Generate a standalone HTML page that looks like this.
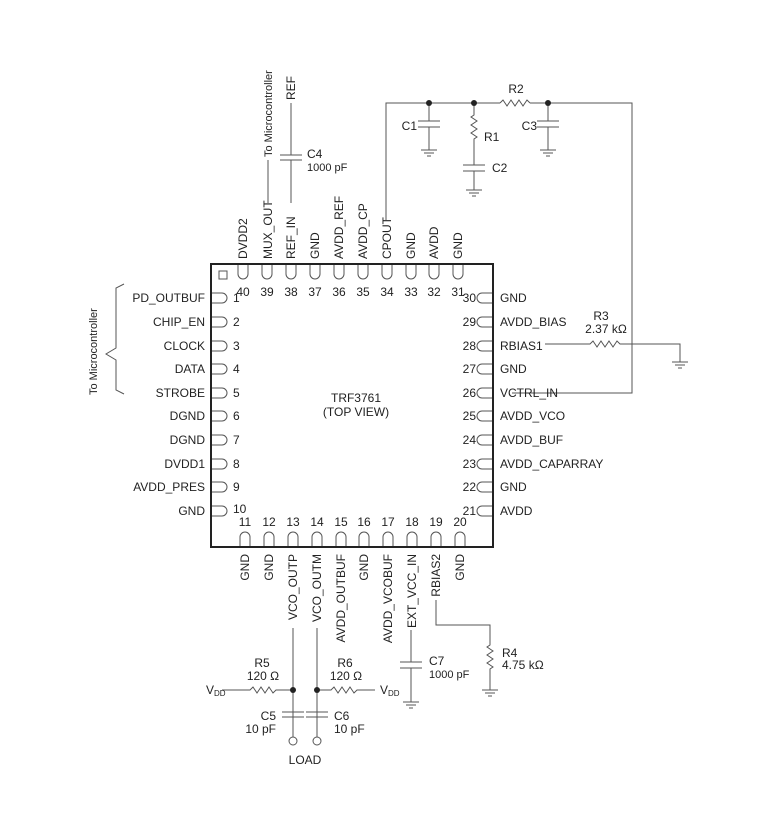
<!DOCTYPE html>
<html><head><style>body{margin:0;background:#fff}svg{display:block}text{font-family:"Liberation Sans",sans-serif;fill:#222}</style></head><body>
<svg width="765" height="833" viewBox="0 0 765 833" xmlns="http://www.w3.org/2000/svg">
<g fill="none" stroke="#555" stroke-width="1">
<rect x="211" y="264" width="282" height="283" stroke="#222" stroke-width="2"/>
<rect x="219" y="271" width="8" height="8"/>
<path d="M238,265v9a5,5 0 0 0 10,0v-9M262,265v9a5,5 0 0 0 10,0v-9M286,265v9a5,5 0 0 0 10,0v-9M310,265v9a5,5 0 0 0 10,0v-9M334,265v9a5,5 0 0 0 10,0v-9M358,265v9a5,5 0 0 0 10,0v-9M382,265v9a5,5 0 0 0 10,0v-9M406,265v9a5,5 0 0 0 10,0v-9M429,265v9a5,5 0 0 0 10,0v-9M453,265v9a5,5 0 0 0 10,0v-9"/>
<path d="M240,546v-9a5,5 0 0 1 10,0v9M264,546v-9a5,5 0 0 1 10,0v9M288,546v-9a5,5 0 0 1 10,0v9M312,546v-9a5,5 0 0 1 10,0v9M336,546v-9a5,5 0 0 1 10,0v9M359,546v-9a5,5 0 0 1 10,0v9M383,546v-9a5,5 0 0 1 10,0v9M407,546v-9a5,5 0 0 1 10,0v9M431,546v-9a5,5 0 0 1 10,0v9M455,546v-9a5,5 0 0 1 10,0v9"/>
<path d="M212,293h10a5,5 0 0 1 0,10h-10M212,317h10a5,5 0 0 1 0,10h-10M212,341h10a5,5 0 0 1 0,10h-10M212,364h10a5,5 0 0 1 0,10h-10M212,388h10a5,5 0 0 1 0,10h-10M212,411h10a5,5 0 0 1 0,10h-10M212,435h10a5,5 0 0 1 0,10h-10M212,459h10a5,5 0 0 1 0,10h-10M212,482h10a5,5 0 0 1 0,10h-10M212,506h10a5,5 0 0 1 0,10h-10"/>
<path d="M492,293h-10a5,5 0 0 0 0,10h10M492,317h-10a5,5 0 0 0 0,10h10M492,341h-10a5,5 0 0 0 0,10h10M492,364h-10a5,5 0 0 0 0,10h10M492,388h-10a5,5 0 0 0 0,10h10M492,411h-10a5,5 0 0 0 0,10h10M492,435h-10a5,5 0 0 0 0,10h10M492,459h-10a5,5 0 0 0 0,10h10M492,482h-10a5,5 0 0 0 0,10h10M492,506h-10a5,5 0 0 0 0,10h10"/>
<path d="M124,284l-8,4v60l-10,6l10,6v30l8,4"/>
<path d="M386,220V103H500M530,103H632V393H512"/>
<path d="M500,103l3,-3l4,6l4,-6l4,6l4,-6l4,6l4,-6l3,3"/>
<path d="M429,103V121M418,121h22M418,127h22M429,127V150M421,150h16M424,153h10M427,156h4"/>
<path d="M474,103V115l-3,2l6,4l-6,4l6,4l-6,4l6,4l-3,2V165M463,165h22M463,171h22M474,171V190M466,190h16M469,193h10M472,196h4"/>
<path d="M548,103V121M537,121h22M537,127h22M548,127V150M540,150h16M543,153h10M546,156h4"/>
<path d="M268,203V160M291,203V160M280,160h22M280,155h22M291,155V103"/>
<path d="M545,344H590l3,-3l4,6l4,-6l4,6l4,-6l4,6l4,-6l3,3H680V362M672,362h16M675,365h10M678,368h4"/>
<path d="M293,628V737M317,628V737M282,712h22M282,717h22M306,712h22M306,717h22"/>
<path d="M222,690H250l3,-3l4,6l4,-6l4,6l4,-6l4,6l3,-3H293M317,690H331l3,-3l4,6l4,-6l4,6l4,-6l4,6l3,-3H375"/>
<circle cx="293" cy="741" r="4"/><circle cx="317" cy="741" r="4"/>
<path d="M411,630V662M400,662h22M400,668h22M411,668V702M403,702h16M406,705h10M409,708h4"/>
<path d="M436,600V625H490V645l-3,2l6,4l-6,4l6,4l-6,4l6,4l-3,2V690M482,690h16M485,693h10M488,696h4"/>
</g>
<g fill="#222"><circle cx="429" cy="103" r="3"/><circle cx="474" cy="103" r="3"/><circle cx="548" cy="103" r="3"/><circle cx="293" cy="690" r="3"/><circle cx="317" cy="690" r="3"/></g>
<g font-size="12">
<g text-anchor="start">
<text transform="translate(247,259) rotate(-90)">DVDD2</text>
<text transform="translate(272,259) rotate(-90)">MUX_OUT</text>
<text transform="translate(295,259) rotate(-90)">REF_IN</text>
<text transform="translate(319,259) rotate(-90)">GND</text>
<text transform="translate(343,259) rotate(-90)">AVDD_REF</text>
<text transform="translate(367,259) rotate(-90)">AVDD_CP</text>
<text transform="translate(391,259) rotate(-90)">CPOUT</text>
<text transform="translate(415,259) rotate(-90)">GND</text>
<text transform="translate(438,259) rotate(-90)">AVDD</text>
<text transform="translate(462,259) rotate(-90)">GND</text>
<text transform="translate(272,157) rotate(-90)" font-size="11">To Microcontroller</text>
<text transform="translate(295,100) rotate(-90)">REF</text>
<text transform="translate(97,395) rotate(-90)" font-size="11">To Microcontroller</text>
</g>
<g text-anchor="end">
<text transform="translate(249,554) rotate(-90)">GND</text>
<text transform="translate(273,554) rotate(-90)">GND</text>
<text transform="translate(297,554) rotate(-90)">VCO_OUTP</text>
<text transform="translate(321,554) rotate(-90)">VCO_OUTM</text>
<text transform="translate(345,554) rotate(-90)">AVDD_OUTBUF</text>
<text transform="translate(368,554) rotate(-90)">GND</text>
<text transform="translate(392,554) rotate(-90)">AVDD_VCOBUF</text>
<text transform="translate(416,554) rotate(-90)">EXT_VCC_IN</text>
<text transform="translate(440,554) rotate(-90)">RBIAS2</text>
<text transform="translate(464,554) rotate(-90)">GND</text>
</g>
<g text-anchor="middle">
<text x="243" y="296">40</text><text x="267" y="296">39</text><text x="291" y="296">38</text><text x="315" y="296">37</text><text x="339" y="296">36</text><text x="363" y="296">35</text><text x="387" y="296">34</text><text x="411" y="296">33</text><text x="434" y="296">32</text><text x="458" y="296">31</text>
<text x="245" y="526">11</text><text x="269" y="526">12</text><text x="293" y="526">13</text><text x="317" y="526">14</text><text x="341" y="526">15</text><text x="364" y="526">16</text><text x="388" y="526">17</text><text x="412" y="526">18</text><text x="436" y="526">19</text><text x="460" y="526">20</text>
<text x="356" y="402">TRF3761</text><text x="356" y="416">(TOP VIEW)</text>
<text x="516" y="93">R2</text>
<text x="601" y="320">R3</text><text x="606" y="333">2.37 kΩ</text>
<text x="262" y="667">R5</text><text x="263" y="680">120 Ω</text>
<text x="345" y="667">R6</text><text x="346" y="680">120 Ω</text>
<text x="305" y="764">LOAD</text>
</g>
<g text-anchor="end">
<text x="205" y="302">PD_OUTBUF</text><text x="205" y="326">CHIP_EN</text><text x="205" y="350">CLOCK</text><text x="205" y="373">DATA</text><text x="205" y="397">STROBE</text><text x="205" y="420">DGND</text><text x="205" y="444">DGND</text><text x="205" y="468">DVDD1</text><text x="205" y="491">AVDD_PRES</text><text x="205" y="515">GND</text>
<text x="476" y="302">30</text><text x="476" y="326">29</text><text x="476" y="350">28</text><text x="476" y="373">27</text><text x="476" y="397">26</text><text x="476" y="420">25</text><text x="476" y="444">24</text><text x="476" y="468">23</text><text x="476" y="491">22</text><text x="476" y="515">21</text>
<text x="417" y="130">C1</text><text x="537" y="130">C3</text>
<text x="276" y="720">C5</text><text x="276" y="733">10 pF</text>
</g>
<g text-anchor="start">
<text x="233" y="302">1</text><text x="233" y="326">2</text><text x="233" y="350">3</text><text x="233" y="373">4</text><text x="233" y="397">5</text><text x="233" y="420">6</text><text x="233" y="444">7</text><text x="233" y="468">8</text><text x="233" y="491">9</text><text x="233" y="513">10</text>
<text x="500" y="302">GND</text><text x="500" y="326">AVDD_BIAS</text><text x="500" y="350">RBIAS1</text><text x="500" y="373">GND</text><text x="500" y="397">VCTRL_IN</text><text x="500" y="420">AVDD_VCO</text><text x="500" y="444">AVDD_BUF</text><text x="500" y="468">AVDD_CAPARRAY</text><text x="500" y="491">GND</text><text x="500" y="515">AVDD</text>
<text x="484" y="141">R1</text><text x="492" y="172">C2</text>
<text x="307" y="158">C4</text><text x="307" y="171" font-size="11">1000 pF</text>
<text x="429" y="665">C7</text><text x="429" y="678" font-size="11">1000 pF</text>
<text x="502" y="657">R4</text><text x="502" y="669">4.75 kΩ</text>
<text x="334" y="720">C6</text><text x="334" y="733">10 pF</text>
<text x="206" y="694">V<tspan font-size="8" dy="2">DD</tspan></text>
<text x="380" y="694">V<tspan font-size="8" dy="2">DD</tspan></text>
</g>
</g>
</svg>
</body></html>
